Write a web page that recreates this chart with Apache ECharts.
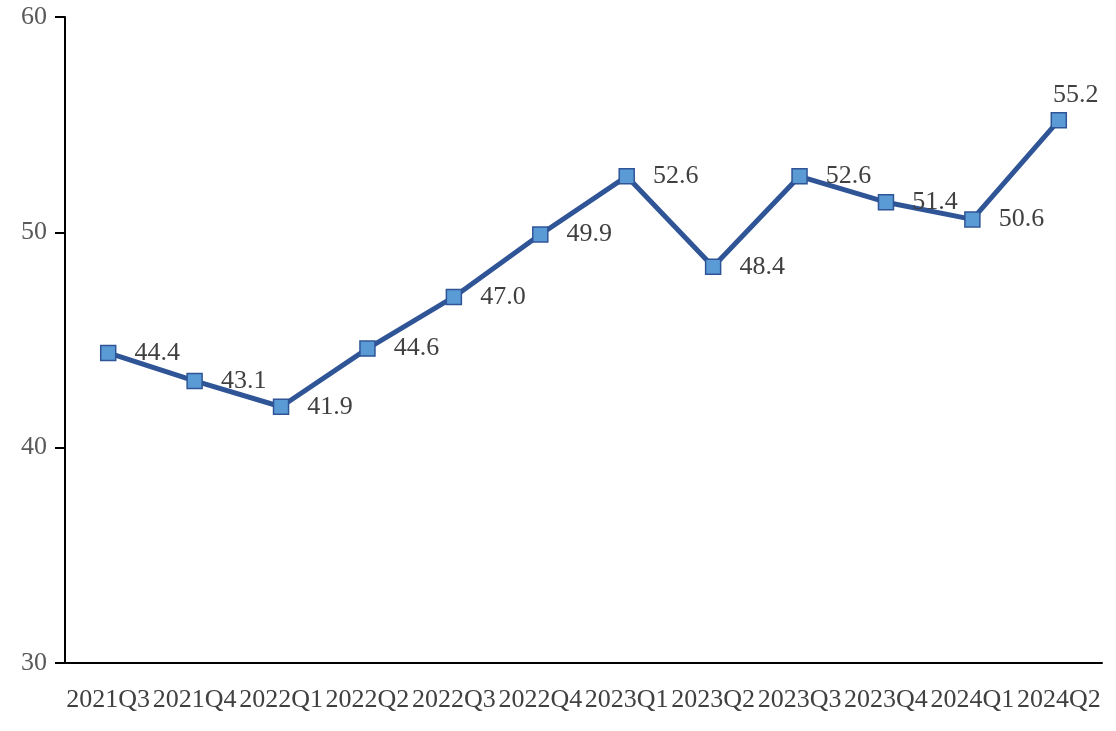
<!DOCTYPE html>
<html>
<head>
<meta charset="utf-8">
<script src="https://cdn.jsdelivr.net/npm/echarts@6/dist/echarts.min.js"></script>
<style>
html,body{margin:0;padding:0;background:#fff;}
#chart{width:1116px;height:731px;}
</style>
</head>
<body>
<div id="chart"></div>
<script>
const categories = ['2021Q3','2021Q4','2022Q1','2022Q2','2022Q3','2022Q4','2023Q1','2023Q2','2023Q3','2023Q4','2024Q1','2024Q2'];
const values = [44.4, 43.1, 41.9, 44.6, 47.0, 49.9, 52.6, 48.4, 52.6, 51.4, 50.6, 55.2];
const yTicks = [30, 40, 50, 60];

const font = '"Liberation Serif", "DejaVu Serif", serif';
const chart = echarts.init(document.getElementById('chart'));
const data = values.map((v, i) => {
  const d = { value: v };
  if (i === values.length - 1) d.label = { position: 'top', distance: 4, offset: [17, 0] };
  return d;
});
chart.setOption({
  animation: false,
  backgroundColor: '#ffffff',
  grid: { left: 65, right: 14, top: 17, bottom: 68, containLabel: false },
  xAxis: {
    type: 'category',
    data: categories,
    boundaryGap: true,
    axisLine: { show: true, lineStyle: { color: '#000', width: 2 } },
    axisTick: { show: false },
    axisLabel: { interval: 0, color: '#404040', fontFamily: font, fontSize: 26, margin: 24, hideOverlap: false }
  },
  yAxis: {
    type: 'value',
    min: yTicks[0],
    max: yTicks[yTicks.length - 1],
    interval: 10,
    splitLine: { show: false },
    axisLine: { show: true, lineStyle: { color: '#000', width: 2 } },
    axisTick: { show: true, length: 10, lineStyle: { color: '#000', width: 2 } },
    axisLabel: { color: '#595959', fontFamily: font, fontSize: 26, margin: 18 }
  },
  series: [{
    type: 'line',
    data: data,
    symbol: 'rect',
    symbolSize: 15,
    lineStyle: { color: '#2f5597', width: 5 },
    itemStyle: { color: '#5b9bd5', borderColor: '#2f5597', borderWidth: 1.5 },
    label: {
      show: true,
      position: 'right',
      distance: 18,
      formatter: p => Number(p.value).toFixed(1),
      color: '#404040',
      fontFamily: font,
      fontSize: 26
    }
  }]
});
</script>
</body>
</html>
